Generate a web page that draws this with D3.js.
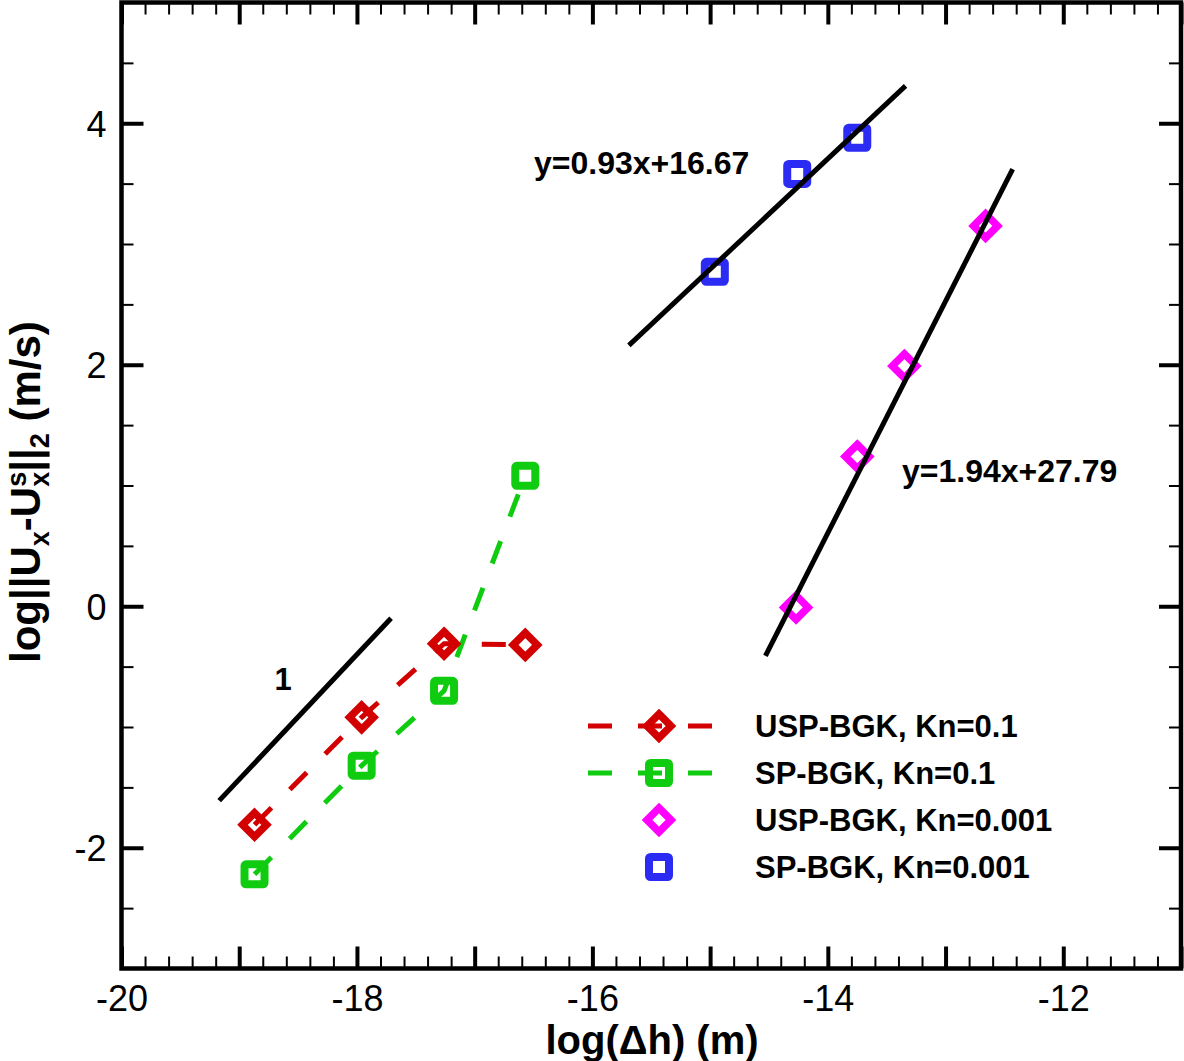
<!DOCTYPE html>
<html><head><meta charset="utf-8">
<script src="https://cdn.jsdelivr.net/npm/d3@7"></script>
<style>
html,body{margin:0;padding:0;background:#fff;}
svg{display:block;}
text{font-family:"Liberation Sans",Arial,Helvetica,sans-serif;fill:#000;}
</style></head>
<body>
<svg id="chart" width="1184" height="1061"></svg>
<script>
// ---- data ----
const xKn01 = [-18.87, -17.96, -17.26, -16.57];
const yUSP01 = [-1.81, -0.92, -0.31, -0.32];
const ySP01 = [-2.22, -1.32, -0.70, 1.08];
const xUSP0001 = [-14.27, -13.75, -13.35, -12.66];
const yUSP0001 = [-0.01, 1.24, 1.99, 3.15];
const xSP0001 = [-14.96, -14.26, -13.75];
const ySP0001 = [2.77, 3.58, 3.88];
// fitted / reference lines (end points)
const fitSPx = [-15.69, -13.34], fitSPy = [2.16, 4.31];
const fitUSPx = [-14.53, -12.43], fitUSPy = [-0.41, 3.62];
const slopeX = [-19.17, -17.71], slopeY = [-1.61, -0.10];
const xTicksMajor = [-20, -19, -18, -17, -16, -15, -14, -13, -12, -11];
const yTicksMajor = [-2, 0, 2, 4];
const legendLabels = ["USP-BGK, Kn=0.1", "SP-BGK, Kn=0.1", "USP-BGK, Kn=0.001", "SP-BGK, Kn=0.001"];
const fitLabels = ["y=0.93x+16.67", "y=1.94x+27.79"];

const RED = "#d20000", GREEN = "#10cc10", MAG = "#ff00ff", BLUE = "#2b2bf4";

const svg = d3.select("#chart");
const L = 121.5, R = 1181, T = 2.5, B = 968.5;
const x = d3.scaleLinear().domain([-20, -11]).range([L, R]);
const y = d3.scaleLinear().domain([-3, 5]).range([B, T]);

const zip = (xs, ys) => xs.map((v, i) => [v, ys[i]]);
const line = d3.line().x(d => x(d[0])).y(d => y(d[1]));

// dashed data lines
svg.append("path").attr("d", line(zip(xKn01, yUSP01)))
  .attr("fill", "none").attr("stroke", RED).attr("stroke-width", 5).attr("stroke-dasharray", "24,26");
svg.append("path").attr("d", line(zip(xKn01, ySP01)))
  .attr("fill", "none").attr("stroke", GREEN).attr("stroke-width", 5).attr("stroke-dasharray", "24,26");

const diamond = r => `M0,${-r}L${r},0L0,${r}L${-r},0Z`;
function drawDiamonds(pts, color) {
  svg.append("g").selectAll("path").data(pts).join("path")
    .attr("transform", d => `translate(${x(d[0])},${y(d[1])})`)
    .attr("d", diamond(12)).attr("fill", "none").attr("stroke", color).attr("stroke-width", 7.5);
}
function drawSquares(pts, color) {
  svg.append("g").selectAll("rect").data(pts).join("rect")
    .attr("x", d => x(d[0]) - 10).attr("y", d => y(d[1]) - 10)
    .attr("width", 20).attr("height", 20).attr("rx", 1.5)
    .attr("fill", "none").attr("stroke", color).attr("stroke-width", 8);
}
drawDiamonds(zip(xKn01, yUSP01), RED);
drawSquares(zip(xKn01, ySP01), GREEN);
drawDiamonds(zip(xUSP0001, yUSP0001), MAG);
drawSquares(zip(xSP0001, ySP0001), BLUE);

// black lines
[[fitSPx, fitSPy], [fitUSPx, fitUSPy], [slopeX, slopeY]].forEach(([xs, ys]) => {
  svg.append("path").attr("d", line(zip(xs, ys)))
    .attr("fill", "none").attr("stroke", "#000").attr("stroke-width", 5);
});

// annotations
svg.append("text").attr("x", 534).attr("y", 174).attr("font-size", 32).attr("font-weight", "bold").text(fitLabels[0]);
svg.append("text").attr("x", 902).attr("y", 482).attr("font-size", 32).attr("font-weight", "bold").text(fitLabels[1]);
svg.append("text").attr("x", 283).attr("y", 690).attr("text-anchor", "middle").attr("font-size", 31).attr("font-weight", "bold").text("1");

// legend
const legY = [726, 773, 820, 867];
const legColors = [RED, GREEN, MAG, BLUE];
const legShape = ["d", "s", "d", "s"];
const legLine = [true, true, false, false];
legendLabels.forEach((lab, i) => {
  const cy = legY[i], cx = 659;
  if (legLine[i]) {
    svg.append("line").attr("x1", 588).attr("x2", 712).attr("y1", cy).attr("y2", cy)
      .attr("stroke", legColors[i]).attr("stroke-width", 5).attr("stroke-dasharray", "24,26");
  }
  if (legShape[i] === "d") {
    svg.append("path").attr("transform", `translate(${cx},${cy})`).attr("d", diamond(12))
      .attr("fill", "none").attr("stroke", legColors[i]).attr("stroke-width", 7.5);
  } else {
    svg.append("rect").attr("x", cx - 10).attr("y", cy - 10).attr("width", 20).attr("height", 20).attr("rx", 1.5)
      .attr("fill", "none").attr("stroke", legColors[i]).attr("stroke-width", 8);
  }
  svg.append("text").attr("x", 755).attr("y", cy + 11).attr("font-size", 31).attr("font-weight", "bold").text(lab);
});

// axes
const xMinor = d3.range(-20, -10.99, 0.2).map(v => +v.toFixed(2));
const yMinor = d3.range(-3, 5.01, 0.5).map(v => +v.toFixed(2));
function styleAxis(g, w) {
  g.select(".domain").remove();
  g.selectAll(".tick line").attr("stroke", "#000").attr("stroke-width", w);
}
// bottom
svg.append("g").attr("transform", `translate(0,${B})`)
  .call(d3.axisBottom(x).tickValues(xMinor).tickSizeInner(-12).tickSizeOuter(0).tickFormat(""))
  .call(g => styleAxis(g, 2));
svg.append("g").attr("transform", `translate(0,${B})`)
  .call(d3.axisBottom(x).tickValues(xTicksMajor).tickSizeInner(-22).tickSizeOuter(0).tickPadding(17)
    .tickFormat(d => (d % 2 === 0 ? String(d) : "")))
  .call(g => styleAxis(g, 4))
  .call(g => g.selectAll("text").attr("font-size", 36).attr("font-family", "Liberation Sans, Arial, sans-serif").attr("fill", "#000"));
// top
svg.append("g").attr("transform", `translate(0,${T})`)
  .call(d3.axisTop(x).tickValues(xMinor).tickSizeInner(-12).tickSizeOuter(0).tickFormat(""))
  .call(g => styleAxis(g, 2));
svg.append("g").attr("transform", `translate(0,${T})`)
  .call(d3.axisTop(x).tickValues(xTicksMajor).tickSizeInner(-22).tickSizeOuter(0).tickFormat(""))
  .call(g => styleAxis(g, 4));
// left
svg.append("g").attr("transform", `translate(${L},0)`)
  .call(d3.axisLeft(y).tickValues(yMinor).tickSizeInner(-12).tickSizeOuter(0).tickFormat(""))
  .call(g => styleAxis(g, 2));
svg.append("g").attr("transform", `translate(${L},0)`)
  .call(d3.axisLeft(y).tickValues(yTicksMajor).tickSizeInner(-22).tickSizeOuter(0).tickPadding(15).tickFormat(d => String(d)))
  .call(g => styleAxis(g, 4))
  .call(g => g.selectAll("text").attr("font-size", 36).attr("dy", "0.36em").attr("font-family", "Liberation Sans, Arial, sans-serif").attr("fill", "#000"));
// right
svg.append("g").attr("transform", `translate(${R},0)`)
  .call(d3.axisRight(y).tickValues(yMinor).tickSizeInner(-12).tickSizeOuter(0).tickFormat(""))
  .call(g => styleAxis(g, 2));
svg.append("g").attr("transform", `translate(${R},0)`)
  .call(d3.axisRight(y).tickValues(yTicksMajor).tickSizeInner(-22).tickSizeOuter(0).tickFormat(""))
  .call(g => styleAxis(g, 4));

// frame
svg.append("rect").attr("x", L).attr("y", T).attr("width", R - L).attr("height", B - T)
  .attr("fill", "none").attr("stroke", "#000").attr("stroke-width", 4.5);

// axis titles
svg.append("text").attr("x", 652).attr("y", 1054).attr("text-anchor", "middle")
  .attr("font-size", 40).attr("font-weight", "bold").text("log(Δh) (m)");

const yt = svg.append("text").attr("transform", "translate(40,663) rotate(-90)")
  .attr("font-size", 42).attr("font-weight", "bold");
yt.append("tspan").text("log||U");
yt.append("tspan").attr("font-size", 27).attr("dy", 9).text("x");
yt.append("tspan").attr("dy", -9).text("-U");
yt.append("tspan").attr("font-size", 27).attr("dy", -14).text("s");
yt.append("tspan").attr("font-size", 27).attr("dx", -15).attr("dy", 23).text("x");
yt.append("tspan").attr("dy", -9).text("||");
yt.append("tspan").attr("font-size", 27).attr("dy", 9).text("2");
yt.append("tspan").attr("dy", -9).text(" (m/s)");
</script>
</body></html>
